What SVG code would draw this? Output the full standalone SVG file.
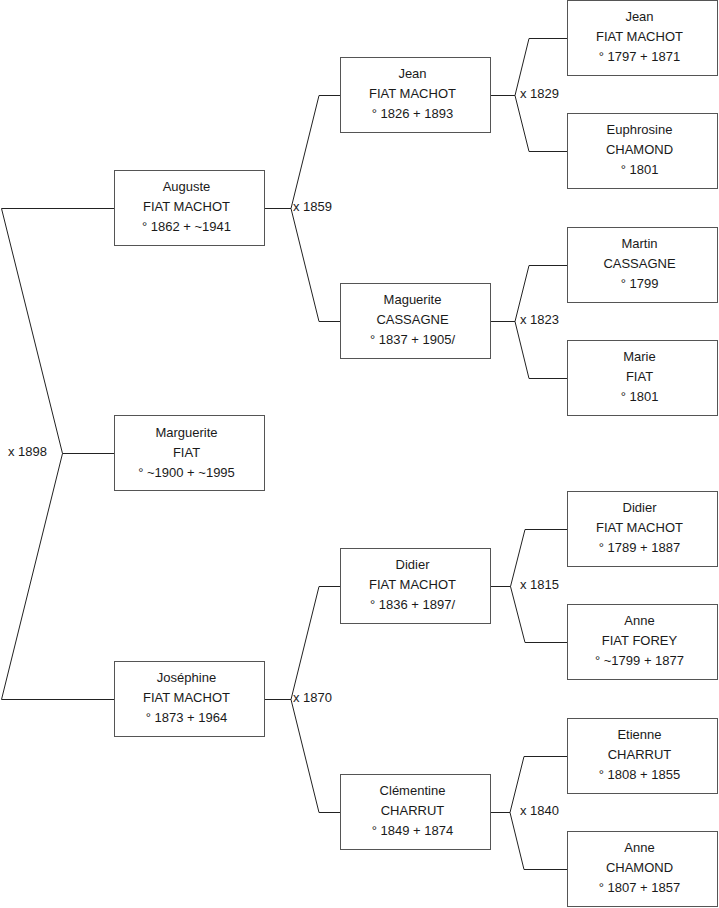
<svg xmlns="http://www.w3.org/2000/svg" width="719" height="908" viewBox="0 0 719 908">
<style>
.box rect{fill:#fff;stroke:#555;stroke-width:1}
.box text{font-family:"Liberation Sans",Arial,sans-serif;font-size:13px;fill:#1a1a1a;text-anchor:middle}
.conn path{fill:none;stroke:#222;stroke-width:1}
.conn text{font-family:"Liberation Sans",Arial,sans-serif;font-size:13px;fill:#1a1a1a}
</style>
<rect width="719" height="908" fill="#fff"/>
<g class="conn" id="connectors">
<path d="M114.5 208.5 H1.5 L62.5 453.5 L1.5 699.5 H114.5 M62.5 453.5 H114.5"/>
<text x="8" y="456">x 1898</text>
<path d="M264.5 208.5 H291 L319 95.5 H340.5 M291 208.5 L319 321.5 H340.5"/>
<text x="293" y="211">x 1859</text>
<path d="M264.5 699.5 H291 L319 586.5 H340.5 M291 699.5 L319 812.5 H340.5"/>
<text x="293" y="702">x 1870</text>
<path d="M490.5 95.5 H515 L529 38.5 H567.5 M515 95.5 L529 151.5 H567.5"/>
<text x="520" y="98">x 1829</text>
<path d="M490.5 321.5 H515 L529 265.5 H567.5 M515 321.5 L529 378.5 H567.5"/>
<text x="520" y="324">x 1823</text>
<path d="M490.5 586.5 H510.5 L525 529.5 H567.5 M510.5 586.5 L525 642.5 H567.5"/>
<text x="520" y="589">x 1815</text>
<path d="M490.5 812.5 H510 L524 756.5 H567.5 M510 812.5 L524 869.5 H567.5"/>
<text x="520" y="815">x 1840</text>
</g>
<g class="box" id="auguste"><rect x="114.5" y="170.5" width="150" height="75"/><text x="186.5" y="191">Auguste</text><text x="186.5" y="211">FIAT MACHOT</text><text x="186.5" y="231">° 1862 + ~1941</text></g>
<g class="box" id="marguerite"><rect x="114.5" y="415.5" width="150" height="75"/><text x="186.5" y="437">Marguerite</text><text x="186.5" y="457">FIAT</text><text x="186.5" y="477">° ~1900 + ~1995</text></g>
<g class="box" id="josephine"><rect x="114.5" y="661.5" width="150" height="75"/><text x="186.5" y="682">Joséphine</text><text x="186.5" y="702">FIAT MACHOT</text><text x="186.5" y="722">° 1873 + 1964</text></g>
<g class="box" id="jean2"><rect x="340.5" y="57.5" width="150" height="75"/><text x="412.5" y="78">Jean</text><text x="412.5" y="98">FIAT MACHOT</text><text x="412.5" y="118">° 1826 + 1893</text></g>
<g class="box" id="maguerite2"><rect x="340.5" y="283.5" width="150" height="75"/><text x="412.5" y="304">Maguerite</text><text x="412.5" y="324">CASSAGNE</text><text x="412.5" y="344">° 1837 + 1905/</text></g>
<g class="box" id="didier2"><rect x="340.5" y="548.5" width="150" height="75"/><text x="412.5" y="569">Didier</text><text x="412.5" y="589">FIAT MACHOT</text><text x="412.5" y="609">° 1836 + 1897/</text></g>
<g class="box" id="clementine2"><rect x="340.5" y="774.5" width="150" height="75"/><text x="412.5" y="795">Clémentine</text><text x="412.5" y="815">CHARRUT</text><text x="412.5" y="835">° 1849 + 1874</text></g>
<g class="box" id="jean3"><rect x="567.5" y="0.5" width="150" height="75"/><text x="639.5" y="21">Jean</text><text x="639.5" y="41">FIAT MACHOT</text><text x="639.5" y="61">° 1797 + 1871</text></g>
<g class="box" id="euphrosine3"><rect x="567.5" y="113.5" width="150" height="75"/><text x="639.5" y="134">Euphrosine</text><text x="639.5" y="154">CHAMOND</text><text x="639.5" y="174">° 1801</text></g>
<g class="box" id="martin3"><rect x="567.5" y="227.5" width="150" height="75"/><text x="639.5" y="248">Martin</text><text x="639.5" y="268">CASSAGNE</text><text x="639.5" y="288">° 1799</text></g>
<g class="box" id="marie3"><rect x="567.5" y="340.5" width="150" height="75"/><text x="639.5" y="361">Marie</text><text x="639.5" y="381">FIAT</text><text x="639.5" y="401">° 1801</text></g>
<g class="box" id="didier3"><rect x="567.5" y="491.5" width="150" height="75"/><text x="639.5" y="512">Didier</text><text x="639.5" y="532">FIAT MACHOT</text><text x="639.5" y="552">° 1789 + 1887</text></g>
<g class="box" id="anne3a"><rect x="567.5" y="604.5" width="150" height="75"/><text x="639.5" y="625">Anne</text><text x="639.5" y="645">FIAT FOREY</text><text x="639.5" y="665">° ~1799 + 1877</text></g>
<g class="box" id="etienne3"><rect x="567.5" y="718.5" width="150" height="75"/><text x="639.5" y="739">Etienne</text><text x="639.5" y="759">CHARRUT</text><text x="639.5" y="779">° 1808 + 1855</text></g>
<g class="box" id="anne3b"><rect x="567.5" y="831.5" width="150" height="75"/><text x="639.5" y="852">Anne</text><text x="639.5" y="872">CHAMOND</text><text x="639.5" y="892">° 1807 + 1857</text></g>
</svg>
